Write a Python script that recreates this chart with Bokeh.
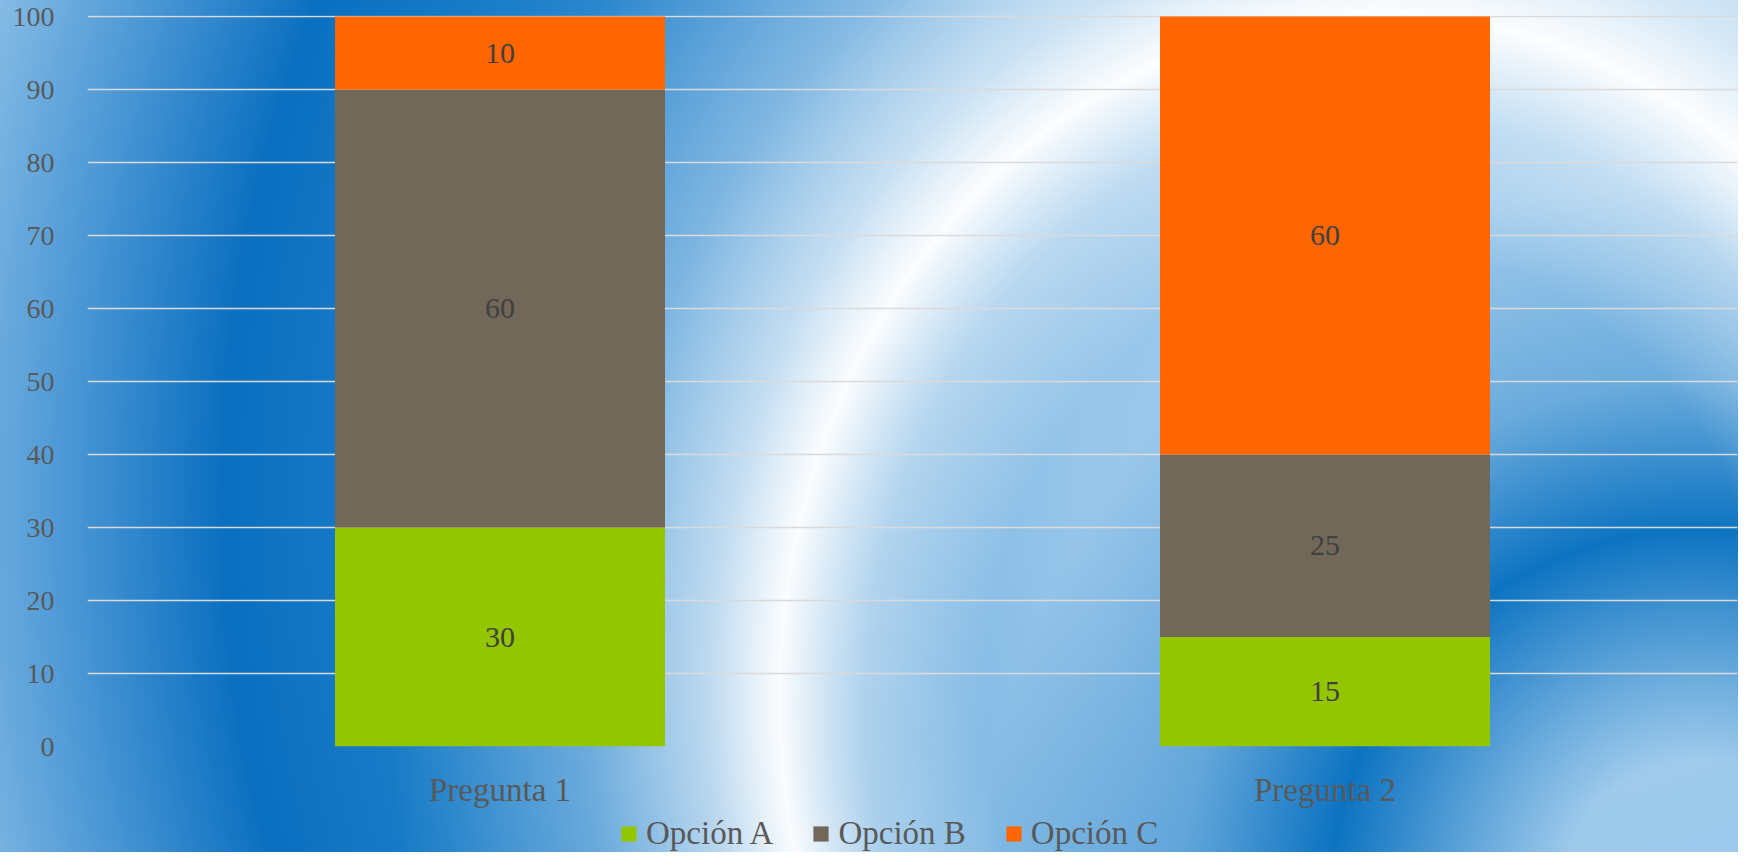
from bokeh.plotting import figure
from bokeh.layouts import column
from bokeh.models import ColumnDataSource, FixedTicker, Legend, LegendItem, Range1d
from bokeh.core.properties import value
from bokeh.embed import file_html
from bokeh.resources import INLINE

# ---- data ----
categories = ["Pregunta 1", "Pregunta 2"]
series = ["Opción A", "Opción B", "Opción C"]
opcion_a = [30, 15]
opcion_b = [60, 25]
opcion_c = [10, 60]
colors = ["#94C600", "#71685A", "#FF6600"]
y_ticks = [0, 10, 20, 30, 40, 50, 60, 70, 80, 90, 100]

FONT = "Liberation Serif"

values = [opcion_a, opcion_b, opcion_c]
data = {"cat": categories}
for name, vals in zip(series, values):
    data[name] = vals
source = ColumnDataSource(data)

# label positions (middle of each stacked segment)
lab_x, lab_y, lab_t = [], [], []
for i, cat in enumerate(categories):
    bottom = 0
    for vals in values:
        v = vals[i]
        lab_x.append(cat)
        lab_y.append(bottom + v / 2)
        lab_t.append(str(v))
        bottom += v
lsrc = ColumnDataSource(dict(x=lab_x, y=lab_y, t=lab_t))

W = 1738
H_MAIN = 810
H_LEG = 42

p = figure(
    x_range=categories, y_range=(0, 100.15),
    width=W, height=H_MAIN,
    output_backend="svg", toolbar_location=None,
    min_border_left=87, min_border_right=1,
    min_border_top=15, min_border_bottom=H_MAIN - 746,
)
p.border_fill_color = None
p.background_fill_color = None
p.outline_line_color = None

renderers = p.vbar_stack(series, x="cat", width=0.4, fill_color=colors,
                         line_color=None, source=source)

p.text(x="x", y="y", text="t", source=lsrc, text_align="center",
       text_baseline="middle", text_font=value(FONT),
       text_font_size="30px", text_color="#404040")

# axes
p.yaxis.ticker = FixedTicker(ticks=y_ticks)
for ax in (p.xaxis, p.yaxis):
    ax.axis_line_color = None
    ax.major_tick_line_color = None
    ax.minor_tick_line_color = None
    ax.major_label_text_font = FONT
    ax.major_label_text_color = "#595959"
p.yaxis.major_label_text_font_size = "28px"
p.yaxis.major_label_standoff = 27
p.xaxis.major_label_text_font_size = "33px"
p.xaxis.major_label_standoff = 19

p.xgrid.grid_line_color = None
p.ygrid.grid_line_color = "#dadada"
p.ygrid.grid_line_width = 1.5

# ---- legend strip (below the chart); its bars sit outside its y range ----
pl = figure(
    width=W, height=H_LEG, x_range=categories, y_range=Range1d(500, 501),
    output_backend="svg", toolbar_location=None,
    x_axis_location=None, y_axis_location=None,
    min_border_left=87, min_border_right=1, min_border_top=0, min_border_bottom=0,
)
pl.border_fill_color = None
pl.background_fill_color = None
pl.outline_line_color = None
pl.grid.visible = False

leg_renderers = pl.vbar_stack(series, x="cat", width=0.4, fill_color=colors,
                              line_color=None, source=source)

legend = Legend(
    items=[LegendItem(label=s, renderers=[r]) for s, r in zip(series, leg_renderers)],
    orientation="horizontal", location=(532, 0),
    padding=0, margin=0, spacing=38, label_standoff=8,
    glyph_width=19, glyph_height=19,
    border_line_color=None, background_fill_alpha=0,
    label_text_font=FONT, label_text_font_size="33px",
    label_text_color="#595959",
)
pl.add_layout(legend, "center")

arch = ("radial-gradient(ellipse 600px 685px at 1380px 700px, "
        "rgba(255,255,255,0) 66%, rgba(255,255,255,0.4) 86%, "
        "rgba(255,255,255,0.97) 100%, rgba(255,255,255,0.6) 112%, "
        "rgba(255,255,255,0.25) 132%, rgba(255,255,255,0) 165%)")
inner = ("radial-gradient(circle at 1700px 900px, "
         "rgba(0,108,190,0) 140px, rgba(0,108,190,0.92) 370px, "
         "rgba(0,108,190,0.35) 520px, rgba(0,108,190,0) 720px)")
base = ("radial-gradient(circle at 1588px 500px, "
        "#a6cfee 0px, #98c6ea 500px, #7ab5e2 750px, #4595d4 980px, "
        "#1d7fc9 1180px, #0a6fc0 1363px, #4a97d5 1520px, #9cc9eb 1720px)")

layout = column(p, pl, spacing=0)
layout.styles = {"background": ", ".join([arch, inner, base])}

open("out.html", "w").write(file_html(layout, INLINE))
